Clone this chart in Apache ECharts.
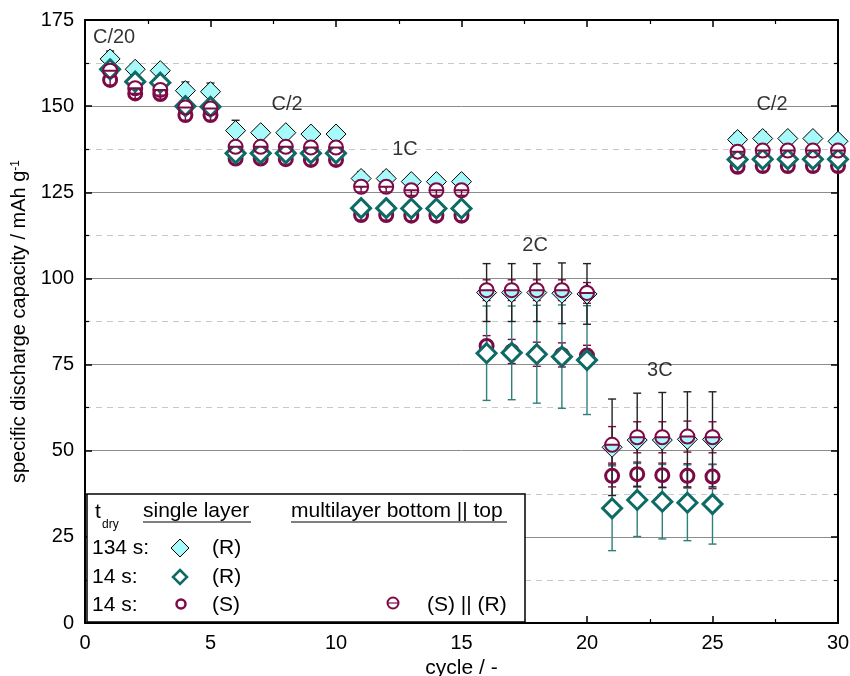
<!DOCTYPE html>
<html><head><meta charset="utf-8">
<script src="https://cdn.jsdelivr.net/npm/echarts@6/dist/echarts.min.js"></script>
<style>html,body{margin:0;padding:0;background:#fff}#c{width:850px;height:676px}</style>
</head><body><div id="c"></div>
<script>
// ---------- data ----------
const cycles = [1,2,3,4,5,6,7,8,9,10,11,12,13,14,15,16,17,18,19,20,21,22,23,24,25,26,27,28,29,30];
// 134 s, single layer (R)
const cyan134R = [163.7,160.7,160.3,154.5,154.2, 142.9,142.3,142.3,141.9,141.9, 129.0,129.0,128.1,128.1,128.1, 95.9,95.9,95.9,95.7,95.5, 51.0,53.1,53.1,53.3,53.3, 140.3,140.6,140.6,140.6,139.8];
const cyan134RErr = [2.3,1,1,2.5,2.5, 3,1.5,1,1,1, 2,2,1.5,1.5,1.5, 8.4,8.4,8.4,8.8,8.8, 14,13.6,13.8,13.8,13.8, 2,2,1.5,1.5,1];
// 14 s, single layer (R)
const teal14R = [160.7,157.1,156.8,150.0,149.8, 136.3,136.3,136.3,136.3,136.3, 120.4,120.4,120.3,120.3,120.3, 78.3,78.4,78.0,77.3,76.3, 33.3,35.7,35.2,34.9,34.5, 134.5,134.6,134.6,134.6,134.6];
const teal14RErr = [1,1,1,1,1, 1,1,1,1,1, 1,1,1,1,1, 13.7,13.6,14.2,15,15.8, 12.3,10.6,10.8,11,11.6, 1,1,1,1,1];
// 14 s, single layer (S)
const maroon14S = [157.6,153.7,153.5,147.4,147.4, 134.8,134.8,134.6,134.4,134.4, 118.4,118.4,118.2,118.2,118.2, 80.4,78.8,78.0,77.8,77.6, 42.7,43.2,42.9,42.7,42.5, 132.4,132.6,132.6,132.6,132.6];
const maroon14SErr = [1.5,1.5,1.5,1.5,1.5, 1.5,1.5,1.5,1.5,1.5, 1.5,1.5,1.5,1.5,1.5, 3,3.5,3.5,3.5,3, 3.2,3.5,3.5,3.5,3.5, 1.5,1.5,1.5,1.5,1.5];
// 14 s, multilayer (S) || (R)
const multiSR = [160.3,155.2,154.7,149.6,149.3, 138.2,138.2,138.2,138.0,138.0, 126.6,126.6,125.6,125.6,125.6, 96.6,96.6,96.6,96.6,95.8, 51.7,53.9,53.9,54.1,53.9, 136.8,137.1,137.1,137.1,137.1];
const multiSRErr = [1.5,1.5,1.5,1.5,1.5, 1.5,1.5,1.5,1.5,1.5, 1.5,1.5,1.5,1.5,1.5, 3,3,3,3,3, 5.3,4.5,4.5,4.5,4.5, 1.5,1.5,1.5,1.5,1.5];
// C-rate annotations
const rateLabels = ['C/20','C/2','1C','2C','3C','C/2'];
const rateLabelX = [1.16, 8.05, 12.75, 17.93, 22.9, 27.37];
const rateLabelY = [169.8, 150.6, 137.3, 109.6, 73.4, 150.6];

// ---------- styles ----------
const FONT = '"Liberation Sans", Arial, Helvetica, sans-serif';
const CYAN = '#a6fafa', TEAL = '#0d6a64', MAROON = '#7d0a47';
const halfFill = {type:'linear', x:0, y:0, x2:0, y2:1, colorStops:[
  {offset:0, color:'#ffffff'},{offset:0.5, color:'#ffffff'},
  {offset:0.5, color:'rgba(255,255,255,0)'},{offset:1, color:'rgba(255,255,255,0)'}]};
const multiPath = 'path://M0,-10A10,10,0,1,1,0,10A10,10,0,1,1,0,-10ZM-10,0L10,0';

function errSeries(vals, errs, color, z) {
  return {
    type:'custom', z: z, silent:true, xAxisIndex:0, yAxisIndex:0,
    data: cycles.map((c,i)=>[c, vals[i]-errs[i], vals[i]+errs[i]]),
    encode:{x:0, y:[1,2]},
    renderItem(params, api){
      const x = api.value(0);
      const lo = api.coord([x, api.value(1)]);
      const hi = api.coord([x, api.value(2)]);
      const w = 4;
      const st = {stroke: color, lineWidth: 1.4};
      return {type:'group', children:[
        {type:'line', shape:{x1:lo[0],y1:lo[1],x2:hi[0],y2:hi[1]}, style:st},
        {type:'line', shape:{x1:lo[0]-w,y1:lo[1],x2:lo[0]+w,y2:lo[1]}, style:st},
        {type:'line', shape:{x1:hi[0]-w,y1:hi[1],x2:hi[0]+w,y2:hi[1]}, style:st}
      ]};
    }
  };
}
const pts = arr => cycles.map((c,i)=>[c, arr[i]]);

const axisCommon = {
  axisLine:{show:true, onZero:false, lineStyle:{color:'#000', width:2}},
  axisTick:{show:true, inside:true, length:7, lineStyle:{color:'#000', width:1.5}},
  minorTick:{show:true, splitNumber:2, length:4, lineStyle:{color:'#000', width:1.2}}
};

const chart = echarts.init(document.getElementById('c'), null, {renderer:'canvas'});

function T(text, x, y, size, extra) {
  return Object.assign({type:'text', x:x, y:y, z:101, style:{text:text, fill:'#000',
    font: size + 'px ' + FONT, textVerticalAlign:'middle', verticalAlign:'middle'}}, extra||{});
}
const LS = 21;
const LG = [
  {type:'rect', shape:{x:87, y:494, width:438, height:128}, style:{fill:'#fff', stroke:'#000', lineWidth:1.5}, z:100},
  T('t', 95, 512, LS),
  T('dry', 102, 525, 12),
  T('single layer', 143, 511, LS),
  {type:'line', shape:{x1:143,y1:522,x2:251,y2:522}, style:{stroke:'#000', lineWidth:1}, z:101},
  T('multilayer bottom || top', 291, 511, LS),
  {type:'line', shape:{x1:291,y1:522,x2:507,y2:522}, style:{stroke:'#000', lineWidth:1}, z:101},
  T('134 s:', 92, 548, LS),
  {type:'polygon', shape:{points:[[180,539],[189,548],[180,557],[171,548]]}, style:{fill:CYAN, stroke:'#000', lineWidth:1}, z:101},
  T('(R)', 212, 548, LS),
  T('14 s:', 92, 577, LS),
  {type:'polygon', shape:{points:[[180,570],[187,577],[180,584],[173,577]]}, style:{fill:'#fff', stroke:TEAL, lineWidth:2.5}, z:101},
  T('(R)', 212, 577, LS),
  T('14 s:', 92, 605, LS),
  {type:'circle', shape:{cx:181, cy:604, r:4.5}, style:{fill:'#fff', stroke:MAROON, lineWidth:2.5}, z:101},
  T('(S)', 212, 605, LS),
  {type:'circle', shape:{cx:393, cy:603, r:5.5}, style:{fill:'#fff', stroke:MAROON, lineWidth:2}, z:101},
  {type:'line', shape:{x1:387.5,y1:603,x2:398.5,y2:603}, style:{stroke:MAROON, lineWidth:1.2}, z:101},
  T('(S) || (R)', 427, 605, LS)
];

chart.setOption({
  animation:false,
  backgroundColor:'#fff',
  grid:{left:85, right:12, top:20, bottom:53, containLabel:false, outerBoundsMode:'none'},
  xAxis:[
    Object.assign({type:'value', min:0, max:30, interval:5, position:'bottom',
      name:'cycle / -', nameLocation:'middle', nameGap:31,
      nameTextStyle:{fontFamily:FONT, fontSize:21, color:'#000'},
      axisLabel:{fontFamily:FONT, fontSize:20, color:'#000', margin:10},
      splitLine:{show:false}}, axisCommon),
    Object.assign({type:'value', min:0, max:30, interval:5, position:'top',
      axisLabel:{show:false}, splitLine:{show:false}}, axisCommon)
  ],
  yAxis:[
    Object.assign({type:'value', min:0, max:175, interval:25, position:'left',
      name:'specific discharge capacity / mAh g{sup|-1}', nameLocation:'middle', nameGap:50,
      nameTextStyle:{fontFamily:FONT, fontSize:20, color:'#000',
        rich:{sup:{fontFamily:FONT, fontSize:12, color:'#000', verticalAlign:'top', padding:[0,0,8,0]}}},
      axisLabel:{fontFamily:FONT, fontSize:20, color:'#000', margin:11},
      splitLine:{show:true, lineStyle:{color:'#8c8c8c', width:1}},
      minorSplitLine:{show:true, lineStyle:{color:'#c8c8c8', width:1, type:[6,5]}}}, axisCommon),
    Object.assign({type:'value', min:0, max:175, interval:25, position:'right',
      axisLabel:{show:false}, splitLine:{show:false}}, axisCommon)
  ],
  series:[
    errSeries(maroon14S, maroon14SErr, MAROON, 2),
    errSeries(multiSR, multiSRErr, MAROON, 2),
    errSeries(teal14R, teal14RErr, '#2f7f7a', 2),
    errSeries(cyan134R, cyan134RErr, '#222', 2),
    {type:'scatter', name:'14 s (S)', z:3, data:pts(maroon14S), symbol:'circle', symbolSize:13,
      itemStyle:{color:'rgba(255,255,255,0)', borderColor:MAROON, borderWidth:3, opacity:1}},
    {type:'scatter', name:'134 s (R)', z:4, data:pts(cyan134R), symbol:'diamond', symbolSize:20,
      itemStyle:{color:CYAN, borderColor:'#000', borderWidth:1, opacity:1}},
    {type:'scatter', name:'14 s (R)', z:5, data:pts(teal14R), symbol:'diamond', symbolSize:19,
      itemStyle:{color:'#fff', borderColor:TEAL, borderWidth:3, opacity:1}},
    {type:'scatter', name:'multilayer (S)||(R)', z:6, data:pts(multiSR), symbol:multiPath, symbolSize:14,
      itemStyle:{color:halfFill, borderColor:MAROON, borderWidth:2, opacity:1}},
    {type:'scatter', z:7, silent:true, symbolSize:0,
      data: rateLabels.map((t,i)=>({value:[rateLabelX[i], rateLabelY[i]], name:t})),
      label:{show:true, position:'inside', formatter:p=>p.name, fontFamily:FONT, fontSize:20, color:'#000'}}
  ],
  graphic: LG
});
</script></body></html>
